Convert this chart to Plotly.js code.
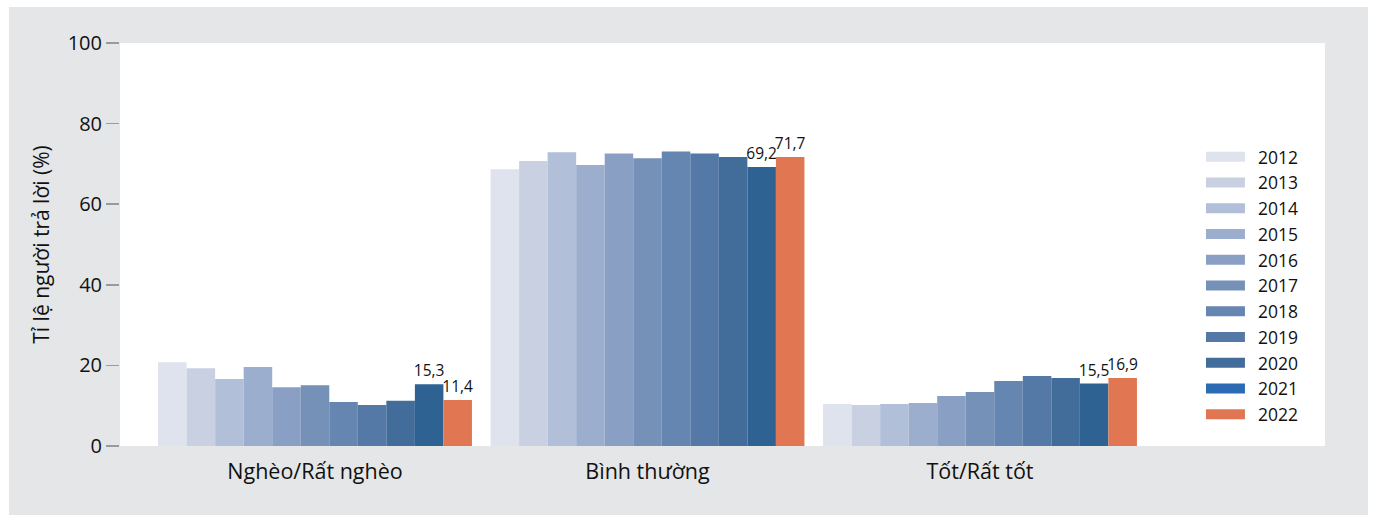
<!DOCTYPE html>
<html>
<head>
<meta charset="utf-8">
<script src="https://cdn.plot.ly/plotly-3.0.1.min.js"></script>
<style>
  html, body { margin: 0; padding: 0; background: #ffffff; }
  #chart { position: absolute; left: 9px; top: 7px; width: 1359px; height: 508px; }
</style>
</head>
<body>
<div id="chart"></div>
<script>
const categories = ["Nghèo/Rất nghèo", "Bình thường", "Tốt/Rất tốt"];
const years = ["2012","2013","2014","2015","2016","2017","2018","2019","2020","2021","2022"];

const v2012 = [20.8, 68.7, 10.4];
const v2013 = [19.3, 70.7, 10.2];
const v2014 = [16.6, 72.9, 10.4];
const v2015 = [19.6, 69.7, 10.7];
const v2016 = [14.6, 72.6, 12.4];
const v2017 = [15.1, 71.4, 13.4];
const v2018 = [10.9, 73.1, 16.1];
const v2019 = [10.2, 72.6, 17.4];
const v2020 = [11.2, 71.7, 16.9];
const v2021 = [15.3, 69.2, 15.5];
const v2022 = [11.4, 71.7, 16.9];
const seriesValues = [v2012, v2013, v2014, v2015, v2016, v2017, v2018, v2019, v2020, v2021, v2022];

const barColors = ["#dfe3ee","#c8d0e2","#b1bfd9","#9caecd","#8a9fc4","#7691b7","#6586b0","#5579a6","#426c9a","#2e6293","#e07652"];
const legendColors = ["#dfe3ee","#c8d0e2","#b1bfd9","#9caecd","#8a9fc4","#7691b7","#6586b0","#5579a6","#426c9a","#2c6bb4","#e07652"];
const labelledYears = ["2021", "2022"];

const FONT = "Open Sans, Noto Sans, sans-serif";
const fmt = v => v.toFixed(1).replace(".", ",");

const traces = [];
years.forEach((yr, i) => {
  const showText = labelledYears.includes(yr);
  traces.push({
    type: "bar",
    name: yr,
    x: categories,
    y: seriesValues[i],
    marker: { color: barColors[i], line: { width: 0 } },
    text: showText ? seriesValues[i].map(fmt) : seriesValues[i].map(() => ""),
    textposition: showText ? "outside" : "none",
    textfont: { family: FONT, size: 15.5, color: "#111111" },
    constraintext: "none",
    cliponaxis: false,
    showlegend: false,
    hoverinfo: "x+y+name"
  });
});
years.forEach((yr, i) => {
  traces.push({
    type: "scatter",
    mode: "lines",
    name: yr,
    x: [null],
    y: [null],
    line: { color: legendColors[i], width: 13 },
    showlegend: true,
    hoverinfo: "skip"
  });
});

const layout = {
  width: 1359,
  height: 508,
  paper_bgcolor: "#e5e6e7",
  plot_bgcolor: "#ffffff",
  margin: { l: 111, r: 43, t: 36, b: 69 },
  barmode: "group",
  bargap: 0.056,
  bargroupgap: 0,
  font: { family: FONT, color: "#111111", size: 19 },
  xaxis: {
    type: "category",
    range: [-0.5865, 3.0376],
    showgrid: false,
    zeroline: false,
    showline: false,
    ticks: "",
    tickfont: { family: FONT, size: 21.5, color: "#111111" },
    ticklabelstandoff: 10
  },
  yaxis: {
    range: [0, 100],
    tickvals: [0, 20, 40, 60, 80, 100],
    ticktext: ["0", "20", "40", "60", "80", "100"],
    showgrid: false,
    zeroline: false,
    showline: false,
    ticks: "outside",
    ticklen: 13,
    tickwidth: 1.5,
    tickcolor: "#9a9a9a",
    tickfont: { family: FONT, size: 20, color: "#111111" },
    title: { text: "Tỉ lệ người trả lời (%)", font: { family: FONT, size: 21, color: "#111111" }, standoff: 12 }
  },
  legend: {
    x: 0.9012,
    xanchor: "left",
    y: 0.762,
    yanchor: "top",
    bgcolor: "rgba(0,0,0,0)",
    font: { family: FONT, size: 17.5, color: "#111111" },
    itemwidth: 42,
    tracegroupgap: 0
  },
  showlegend: true
};

function widenSwatches() {
  document.querySelectorAll("#chart .legend .legendlines path").forEach(p => {
    p.setAttribute("d", "M-8,0h47");
  });
}

Plotly.newPlot("chart", traces, layout, { displayModeBar: false, staticPlot: true }).then(widenSwatches);
</script>
</body>
</html>
